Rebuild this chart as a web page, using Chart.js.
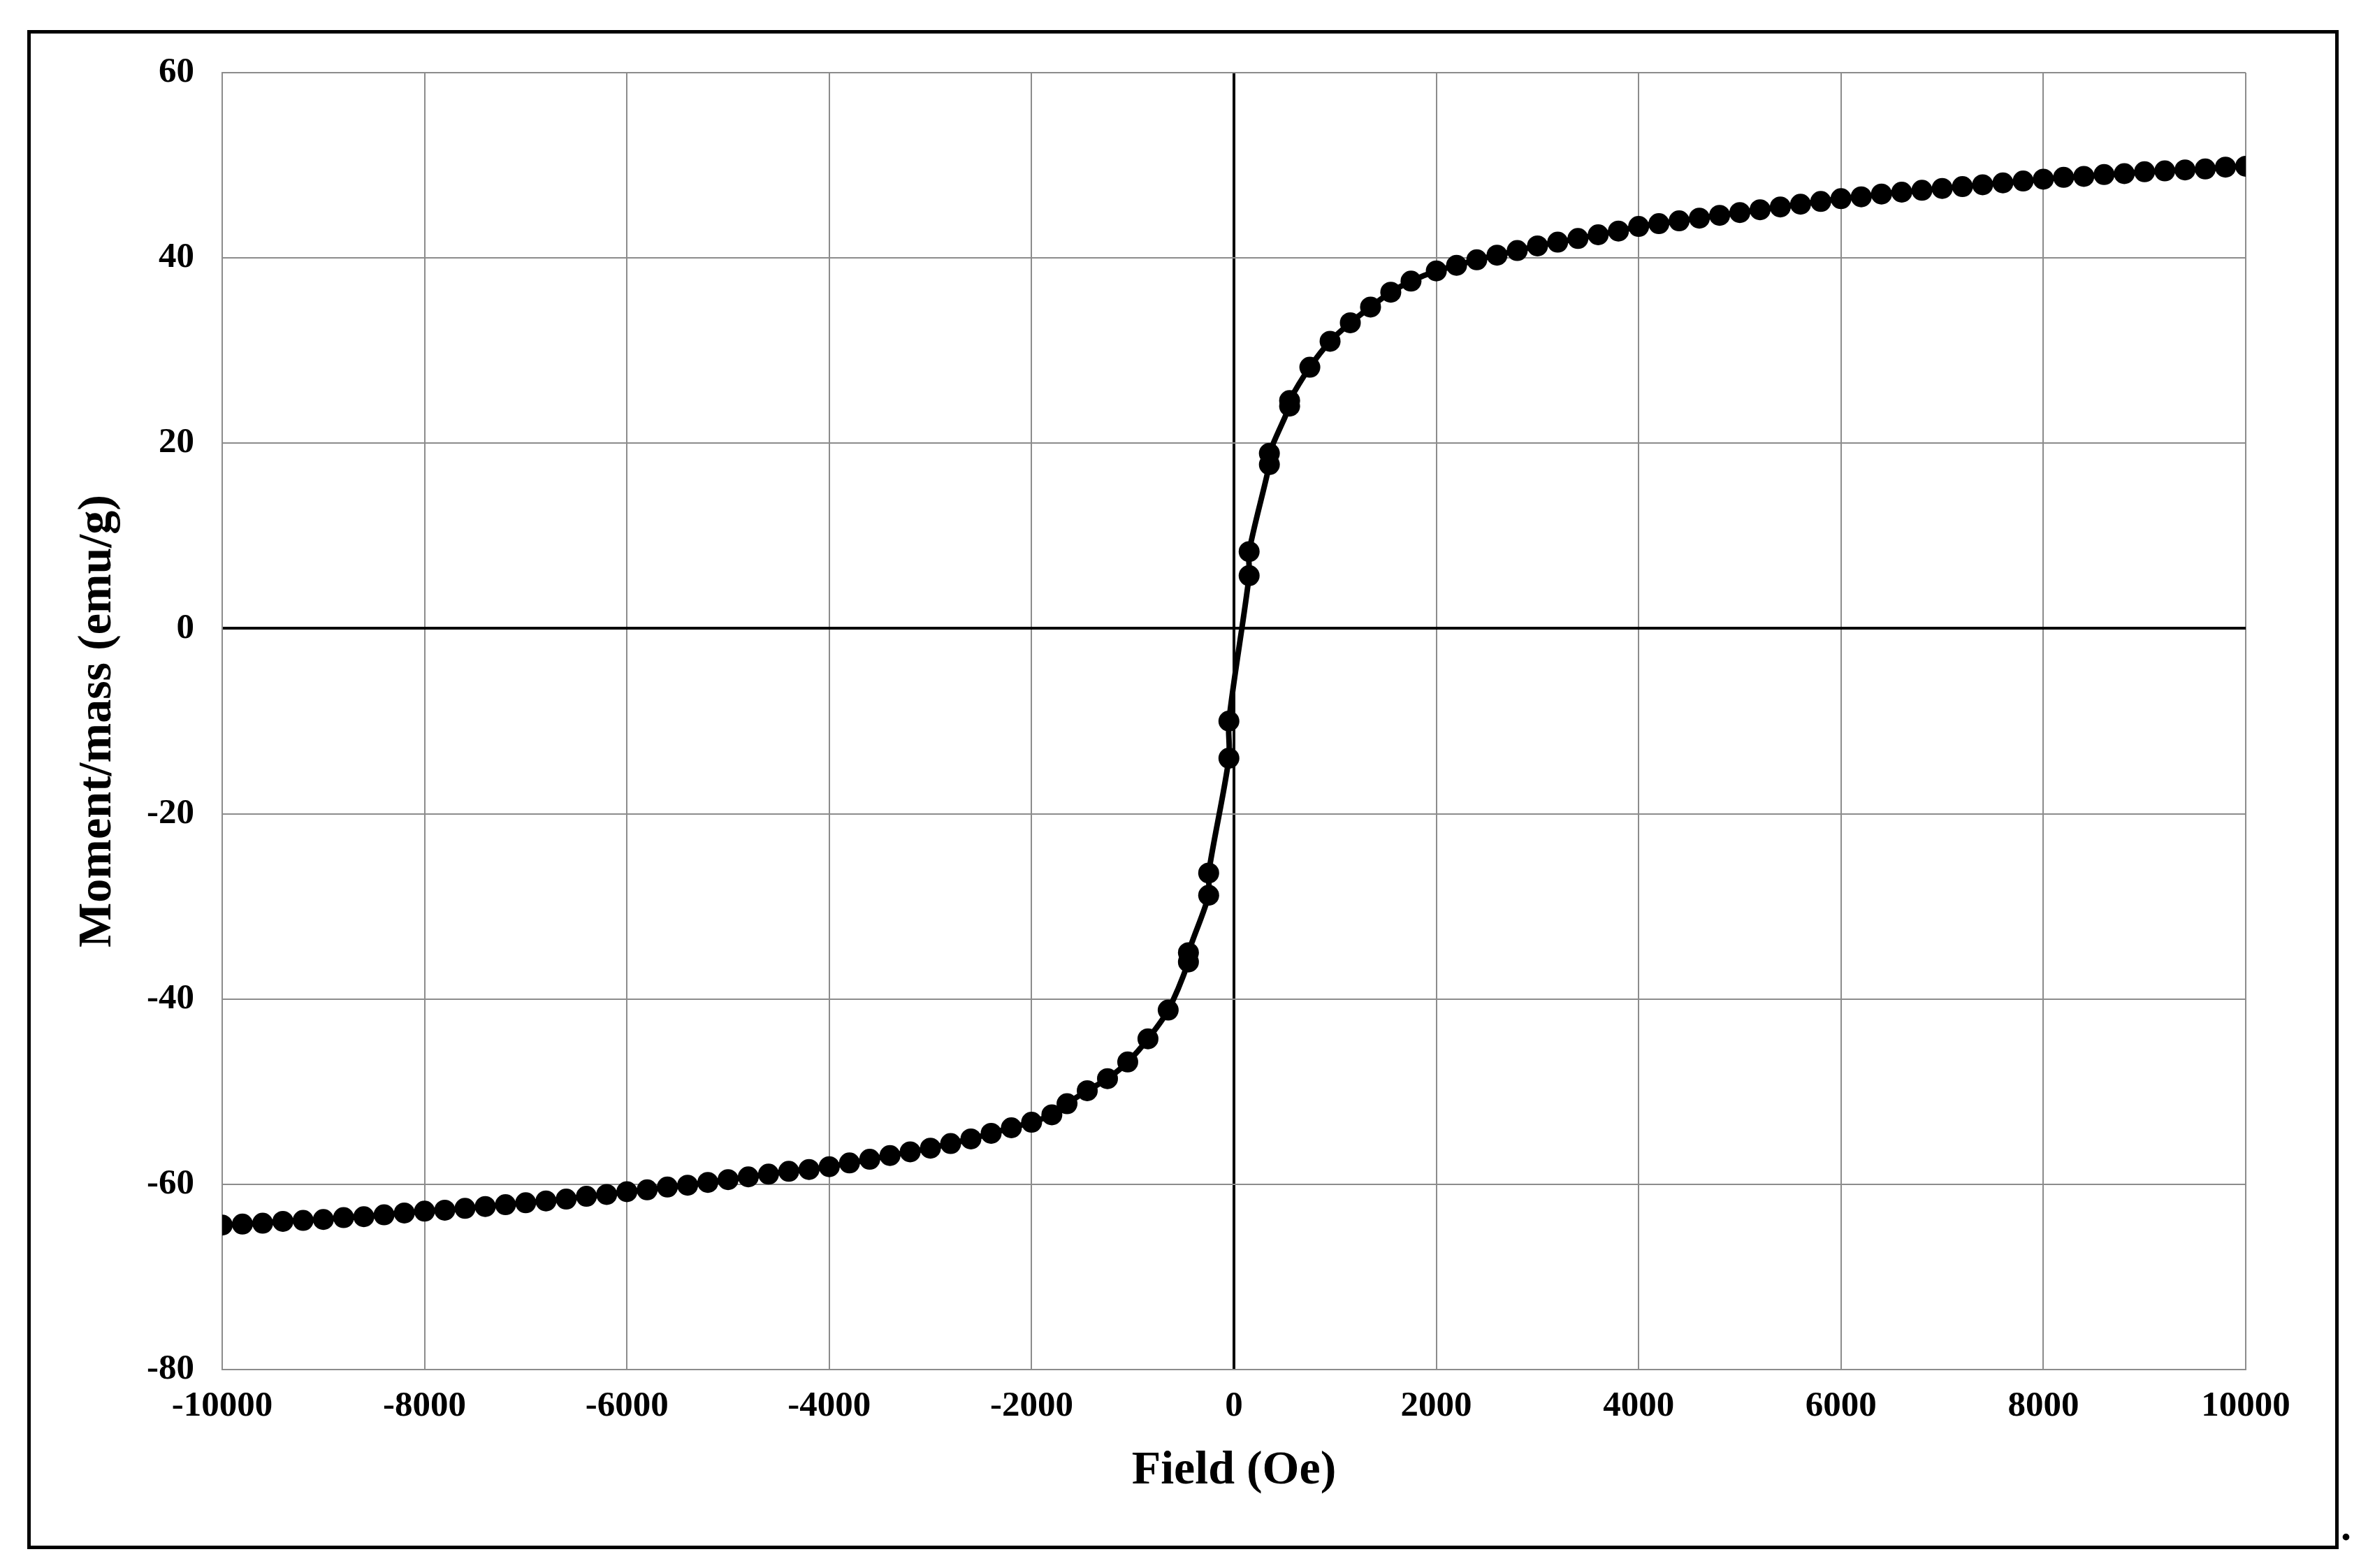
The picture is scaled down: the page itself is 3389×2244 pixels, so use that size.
<!DOCTYPE html>
<html>
<head>
<meta charset="utf-8">
<script src="https://cdn.jsdelivr.net/npm/chart.js@4.4.1/dist/chart.umd.min.js"></script>
<style>
  html, body { margin: 0; padding: 0; background: #fff; }
  #wrap { position: relative; width: 3389px; height: 2244px; }
  #frame { position: absolute; left: 39px; top: 43px; width: 3298px; height: 2164px; border: 5px solid #000; }
  #myChart { position: absolute; left: 0; top: 0; }
  #dot { position: absolute; left: 3350px; top: 2150px; font: bold 60px "Liberation Serif"; }
</style>
</head>
<body>
<div id="wrap">
  <div id="frame"></div>
  <canvas id="myChart" width="3389" height="2244"></canvas>
  <span id="dot">.</span>
</div>
<script>
const fieldNeg = [-10000, -9800, -9600, -9400, -9200, -9000, -8800, -8600, -8400, -8200, -8000,
  -7800, -7600, -7400, -7200, -7000, -6800, -6600, -6400, -6200, -6000,
  -5800, -5600, -5400, -5200, -5000, -4800, -4600, -4400, -4200, -4000,
  -3800, -3600, -3400, -3200, -3000, -2800, -2600, -2400, -2200, -2000, -1800];
const momentNeg = [-64.4, -64.3, -64.2, -64.0, -63.9, -63.8, -63.6, -63.5, -63.3, -63.1, -62.9,
  -62.8, -62.6, -62.4, -62.2, -62.0, -61.8, -61.6, -61.3, -61.1, -60.8,
  -60.6, -60.3, -60.1, -59.8, -59.5, -59.2, -58.9, -58.6, -58.4, -58.1,
  -57.7, -57.3, -56.9, -56.5, -56.1, -55.6, -55.1, -54.5, -53.9, -53.3, -52.5];
const fieldMid = [-1650, -1450, -1250, -1050, -850, -650, -450, -450, -250, -250, -50, -50,
  150, 150, 350, 350, 550, 550, 750, 950, 1150, 1350, 1550, 1750];
const momentMid = [-51.3, -49.9, -48.6, -46.8, -44.3, -41.2, -36.0, -35.0, -28.8, -26.4, -14.0, -10.0,
  5.7, 8.3, 17.7, 18.9, 24.0, 24.6, 28.2, 31.0, 33.0, 34.7, 36.3, 37.5];
const fieldPos = [2000, 2200, 2400, 2600, 2800, 3000, 3200, 3400, 3600, 3800, 4000,
  4200, 4400, 4600, 4800, 5000, 5200, 5400, 5600, 5800, 6000,
  6200, 6400, 6600, 6800, 7000, 7200, 7400, 7600, 7800, 8000,
  8200, 8400, 8600, 8800, 9000, 9200, 9400, 9600, 9800, 10000];
const momentPos = [38.6, 39.2, 39.8, 40.3, 40.8, 41.3, 41.7, 42.1, 42.5, 42.9, 43.4,
  43.7, 44.0, 44.3, 44.6, 44.9, 45.2, 45.5, 45.8, 46.1, 46.4,
  46.6, 46.9, 47.1, 47.3, 47.5, 47.7, 47.9, 48.1, 48.3, 48.5,
  48.7, 48.8, 49.0, 49.1, 49.3, 49.4, 49.5, 49.6, 49.8, 49.9];

const fields = fieldNeg.concat(fieldMid, fieldPos);
const moments = momentNeg.concat(momentMid, momentPos);
const points = fields.map((f, i) => ({ x: f, y: moments[i] }));

const tickFont = { family: "Liberation Serif", size: 51, weight: "bold" };
const titleFont = { family: "Liberation Serif", size: 68, weight: "bold" };
const gridColor = (c) => (c.tick && c.tick.value === 0 ? "#000" : "#8c8c8c");
const gridWidth = (c) => (c.tick && c.tick.value === 0 ? 4 : 2);

new Chart(document.getElementById("myChart"), {
  type: "scatter",
  data: {
    datasets: [
      {
        data: points,
        showLine: true,
        borderColor: "#000",
        backgroundColor: "#000",
        borderWidth: 8,
        tension: 0.3,
        pointRadius: 15,
        pointBorderWidth: 0,
      },
    ],
  },
  options: {
    responsive: false,
    animation: false,
    layout: { padding: { top: 104, right: 175, left: 100, bottom: 94 } },
    plugins: { legend: false, tooltip: { enabled: false } },
    scales: {
      x: {
        min: -10000,
        max: 10000,
        afterFit: (s) => { s.height = 190; },
        border: { color: "#8c8c8c", width: 2 },
        grid: { color: gridColor, lineWidth: gridWidth, drawTicks: false },
        ticks: { stepSize: 2000, color: "#000", font: tickFont, padding: 22, maxRotation: 0, callback: (v) => String(v) },
        title: { display: true, text: "Field (Oe)", color: "#000", font: titleFont, padding: { top: 0 } },
      },
      y: {
        min: -80,
        max: 60,
        afterFit: (s) => { s.width = 218; },
        border: { color: "#8c8c8c", width: 2 },
        grid: { color: gridColor, lineWidth: gridWidth, drawTicks: false },
        ticks: { stepSize: 20, color: "#000", font: tickFont, padding: 40 },
        title: { display: true, text: "Moment/mass (emu/g)", color: "#000", font: titleFont, padding: 0 },
      },
    },
  },
});
</script>
</body>
</html>
